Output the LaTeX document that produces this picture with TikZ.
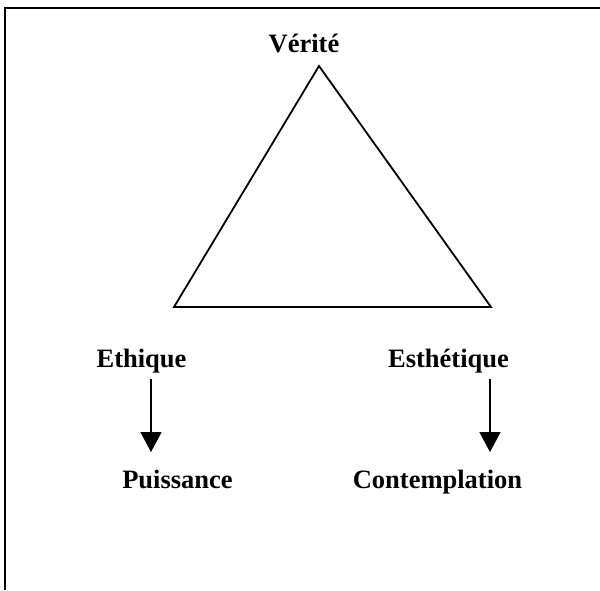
\documentclass[tikz,border=0pt]{standalone}
\usepackage{fontspec}
\setmainfont{Liberation Serif}
\usetikzlibrary{arrows.meta}
\tikzset{
  lbl/.style={anchor=base, inner sep=0pt, font=\fontsize{26.5}{30}\selectfont\bfseries},
  edge/.style={line width=1.8pt, line join=miter},
  arr/.style={line width=1.6pt, -{Triangle[length=20pt,width=21pt]}}
}
\begin{document}
\begin{tikzpicture}[x=1pt,y=-1pt]
\useasboundingbox (0,0) rectangle (600,590);
% frame
\draw[line width=1.8pt] (5,590) -- (5,8) -- (600,8);
% triangle
\coordinate (apex) at (319,66);
\coordinate (bl) at (174,307);
\coordinate (br) at (491,307);
\draw[edge] (apex) -- (bl) -- (br) -- cycle;
% labels
\node[lbl] (verite) at (304,52) {Vérité};
\node[lbl] (ethique) at (141.5,367) {Ethique};
\node[lbl] (esthetique) at (448.5,367) {Esthétique};
\node[lbl] (puissance) at (177.5,488) {Puissance};
\node[lbl] (contemplation) at (437.5,488) {Contemplation};
% arrows
\coordinate (a1s) at (151,379);
\coordinate (a1e) at (151,452);
\coordinate (a2s) at (490,379);
\coordinate (a2e) at (490,452);
\draw[arr] (a1s) -- (a1e);
\draw[arr] (a2s) -- (a2e);
\end{tikzpicture}
\end{document}
